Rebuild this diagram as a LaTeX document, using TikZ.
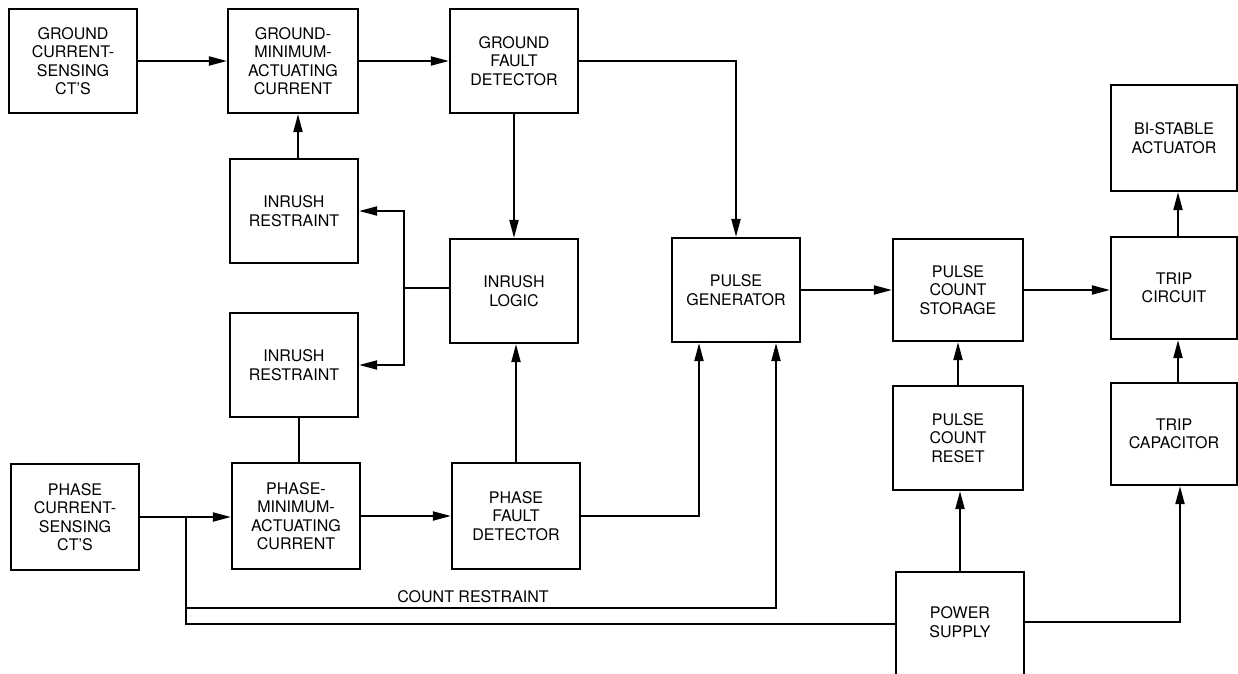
\documentclass[tikz,border=0pt]{standalone}
\usepackage{fontspec}
\setmainfont{TeX Gyre Heros}
\usetikzlibrary{arrows.meta}
\begin{document}
\begin{tikzpicture}[x=1pt,y=-1pt,
  blk/.style={draw, line width=2.2pt, rectangle, align=center, inner sep=0pt,
    font=\fontsize{16}{18.5}\selectfont},
  lbl/.style={align=center, inner sep=0pt, font=\fontsize{16}{18.5}\selectfont},
  conn/.style={line width=2pt},
  arr/.style={line width=2pt, -{Triangle[length=18pt,width=9pt]}}]
\useasboundingbox (0,0) rectangle (1238,673);
\clip (0,0) rectangle (1238,673);
% boxes
\node[blk, minimum width=128pt, minimum height=104pt] (gct) at (73,61) {GROUND\\CURRENT-\\SENSING\\CT'S};
\node[blk, minimum width=130pt, minimum height=104pt] (gmac) at (293,61) {GROUND-\\MINIMUM-\\ACTUATING\\CURRENT};
\node[blk, minimum width=128pt, minimum height=104pt] (gfd) at (514,61) {GROUND\\FAULT\\DETECTOR};
\node[blk, minimum width=128pt, minimum height=104pt] (ir1) at (294,211) {INRUSH\\RESTRAINT};
\node[blk, minimum width=128pt, minimum height=104pt] (il) at (514,291) {INRUSH\\LOGIC};
\node[blk, minimum width=128pt, minimum height=104pt] (ir2) at (294,365) {INRUSH\\RESTRAINT};
\node[blk, minimum width=128pt, minimum height=104pt] (pg) at (736,290) {PULSE\\GENERATOR};
\node[blk, minimum width=130pt, minimum height=102pt] (pcs) at (958,290) {PULSE\\COUNT\\STORAGE};
\node[blk, minimum width=126pt, minimum height=106pt] (bsa) at (1174,138) {BI-STABLE\\ACTUATOR};
\node[blk, minimum width=126pt, minimum height=102pt] (tc) at (1174,288) {TRIP\\CIRCUIT};
\node[blk, minimum width=126pt, minimum height=102pt] (tcap) at (1174,434) {TRIP\\CAPACITOR};
\node[blk, minimum width=130pt, minimum height=104pt] (pcr) at (958,438) {PULSE\\COUNT\\RESET};
\node[blk, minimum width=128pt, minimum height=106pt] (pct) at (75,517) {PHASE\\CURRENT-\\SENSING\\CT'S};
\node[blk, minimum width=128pt, minimum height=106pt] (pmac) at (296,516) {PHASE-\\MINIMUM-\\ACTUATING\\CURRENT};
\node[blk, minimum width=128pt, minimum height=106pt] (pfd) at (516,516) {PHASE\\FAULT\\DETECTOR};
\node[blk, minimum width=128pt, minimum height=130pt, anchor=north] (ps) at (960,571) {};
\node[lbl] (pstext) at (960,622) {POWER\\SUPPLY};
\node[lbl] (crlbl) at (473,597) {COUNT RESTRAINT};
% coordinates
\coordinate (jn) at (404,288);
\coordinate (br) at (186,517);
\coordinate (pl) at (186,624);
\coordinate (cr) at (776,608);
\coordinate (pr) at (1180,622);
% connectors
\draw[arr] (gct.east) -- (gct.east -| gmac.west);
\draw[arr] (gmac.east) -- (gmac.east -| gfd.west);
\draw[arr] (gfd.east) -| (pg.north);
\draw[arr] (il.north |- gfd.south) -- (il.north);
\draw[arr] ([xshift=4pt]ir1.north) -- ([xshift=4pt]ir1.north |- gmac.south);
\draw[conn] (jn -| il.west) -- (jn);
\draw[arr] (jn) -- (jn |- ir1.east) -- (ir1.east);
\draw[arr] (jn) -- (jn |- ir2.east) -- (ir2.east);
\draw[conn] ([xshift=5pt]ir2.south) -- ([xshift=5pt]ir2.south |- pmac.north);
\draw[arr] (pct.east) -- (pct.east -| pmac.west);
\draw[conn] (br) -- (pl) -- (pl -| ps.west);
\draw[arr] (br |- cr) -- (cr) -- (cr |- pg.south);
\draw[arr] (pmac.east) -- (pmac.east -| pfd.west);
\draw[arr] (pfd.north) -- (pfd.north |- il.south);
\draw[arr] (pfd.east) -| ([xshift=-37pt]pg.south);
\draw[arr] (pg.east) -- (pg.east -| pcs.west);
\draw[arr] (pcs.east) -- (pcs.east -| tc.west);
\draw[arr] ([xshift=4pt]tc.north) -- ([xshift=4pt]tc.north |- bsa.south);
\draw[arr] ([xshift=4pt]tcap.north) -- ([xshift=4pt]tcap.north |- tc.south);
\draw[arr] (pr -| ps.east) -- (pr) -- (pr |- tcap.south);
\draw[arr] (ps.north) -- (ps.north |- pcr.south);
\draw[arr] (pcr.north) -- (pcr.north |- pcs.south);
\end{tikzpicture}
\end{document}
